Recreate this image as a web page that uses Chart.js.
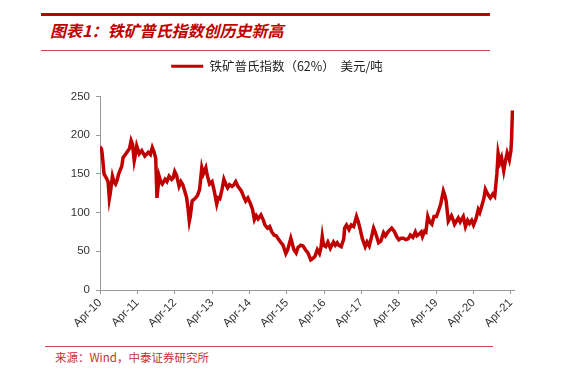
<!DOCTYPE html>
<html>
<head>
<meta charset="utf-8">
<script src="https://cdn.jsdelivr.net/npm/chart.js@4.4.1/dist/chart.umd.min.js"></script>
<style>
  body { margin: 0; background: #fff; width: 586px; height: 375px; position: relative; overflow: hidden; }
  .rule { position: absolute; background: #c00000; }
  #title { position: absolute; left: 50px; top: 18px; font: italic bold 16px "Noto Sans CJK SC", sans-serif; color: #c00000; white-space: nowrap; }
  #source { position: absolute; left: 55px; top: 349px; font: 11.5px "Noto Sans CJK SC", monospace; color: #c83030; white-space: nowrap; }
  #box { position: absolute; left: 0; top: 50px; width: 586px; height: 290px; }
</style>
</head>
<body>
<div class="rule" style="left:41px; top:13px; width:449px; height:3px;"></div>
<div id="title">图表1：铁矿普氏指数创历史新高</div>
<div class="rule" style="left:41px; top:50px; width:449px; height:1px; background:#d04848;"></div>
<div id="box"><canvas id="ironChart"></canvas></div>
<div class="rule" style="left:45px; top:346px; width:448px; height:1px; background:#d04848;"></div>
<div id="source">来源：Wind，中泰证券研究所</div>

<script>
const seriesName = '铁矿普氏指数（62%）  美元/吨';
const tickLabels = ['Apr-10', 'Apr-11', 'Apr-12', 'Apr-13', 'Apr-14', 'Apr-15',
                    'Apr-16', 'Apr-17', 'Apr-18', 'Apr-19', 'Apr-20', 'Apr-21'];

const dates = [
  '2010-04-01', '2010-04-16', '2010-04-22', '2010-05-10', '2010-06-01', '2010-06-19', '2010-07-01', '2010-07-10',
  '2010-08-01', '2010-08-16', '2010-09-01', '2010-09-16', '2010-10-01', '2010-11-01', '2010-11-13', '2010-12-16',
  '2011-01-16', '2011-02-01', '2011-02-15', '2011-03-01', '2011-03-13', '2011-03-25', '2011-04-19', '2011-05-13',
  '2011-06-13', '2011-07-16', '2011-08-07', '2011-08-25', '2011-09-13', '2011-09-28', '2011-10-10', '2011-10-22',
  '2011-11-01', '2011-11-16', '2011-12-01', '2011-12-28', '2012-01-16', '2012-02-07', '2012-03-01', '2012-03-16',
  '2012-04-01', '2012-04-19', '2012-05-13', '2012-06-01', '2012-06-19', '2012-07-07', '2012-07-25', '2012-08-10',
  '2012-08-22', '2012-09-01', '2012-09-19', '2012-10-07', '2012-10-22', '2012-11-10', '2012-12-01', '2012-12-22',
  '2013-01-07', '2013-02-01', '2013-02-15', '2013-03-07', '2013-04-01', '2013-04-19', '2013-05-16', '2013-06-01',
  '2013-06-16', '2013-07-07', '2013-07-25', '2013-08-16', '2013-09-01', '2013-09-19', '2013-10-13', '2013-11-01',
  '2013-11-19', '2013-12-10', '2014-01-13', '2014-02-07', '2014-02-25', '2014-03-16', '2014-04-10', '2014-05-01',
  '2014-05-19', '2014-06-07', '2014-06-25', '2014-07-22', '2014-08-16', '2014-09-01', '2014-09-25', '2014-10-16',
  '2014-11-07', '2014-11-28', '2014-12-19', '2015-01-10', '2015-02-01', '2015-02-25', '2015-03-22', '2015-04-10',
  '2015-05-10', '2015-06-10', '2015-07-01', '2015-07-19', '2015-08-16', '2015-09-07', '2015-10-01', '2015-10-25',
  '2015-11-22', '2015-12-13', '2016-01-01', '2016-01-25', '2016-02-16', '2016-03-01', '2016-03-13', '2016-03-25',
  '2016-04-16', '2016-05-07', '2016-06-01', '2016-07-01', '2016-07-19', '2016-08-07', '2016-08-22', '2016-09-16',
  '2016-10-10', '2016-10-19', '2016-11-07', '2016-12-01', '2016-12-22', '2017-01-16', '2017-02-13', '2017-03-01',
  '2017-03-19', '2017-04-10', '2017-05-07', '2017-05-25', '2017-06-16', '2017-07-07', '2017-07-28', '2017-08-16',
  '2017-09-16', '2017-10-07', '2017-11-04', '2017-11-22', '2017-12-16', '2018-01-07', '2018-01-22', '2018-02-16',
  '2018-03-10', '2018-04-01', '2018-04-22', '2018-05-16', '2018-06-10', '2018-07-01', '2018-07-22', '2018-08-16',
  '2018-09-10', '2018-09-25', '2018-10-16', '2018-11-07', '2018-11-19', '2018-12-10', '2018-12-22', '2019-01-10',
  '2019-01-28', '2019-02-19', '2019-03-10', '2019-04-04', '2019-04-25', '2019-05-13', '2019-06-10', '2019-06-25',
  '2019-07-07', '2019-07-28', '2019-08-28', '2019-09-16', '2019-09-28', '2019-11-04', '2019-11-22', '2019-12-22',
  '2020-01-13', '2020-02-04', '2020-02-22', '2020-03-13', '2020-04-01', '2020-04-25', '2020-05-16', '2020-06-01',
  '2020-06-19', '2020-07-10', '2020-07-25', '2020-08-16', '2020-09-13', '2020-10-07', '2020-10-25', '2020-11-16',
  '2020-11-28', '2020-12-16', '2021-01-01', '2021-01-22', '2021-02-10', '2021-02-25', '2021-03-16', '2021-04-01',
  '2021-04-07', '2021-04-16'
];

const prices = [
  185, 182, 176, 150, 145, 140, 118, 125,
  147, 140, 137, 142, 150, 160, 171, 177,
  183, 193, 188, 167, 175, 186, 176, 180,
  173, 178, 175, 184, 178, 170, 119, 135,
  147, 140, 137, 143, 140, 147, 143, 145,
  153, 148, 134, 140, 136, 128, 120, 105,
  89, 95, 115, 117, 119, 122, 130, 158,
  150, 158, 148, 137, 140, 130, 111, 119,
  118, 130, 143, 136, 132, 136, 134, 136,
  140, 134, 128, 120, 115, 119, 112, 104,
  91, 96, 92, 97, 90, 84, 80, 82,
  75, 71, 70, 66, 62, 58, 47, 52,
  67, 52, 48, 55, 58, 57, 52, 48,
  39, 41, 43, 52, 47, 55, 69, 58,
  56, 62, 54, 62, 58, 61, 58, 56,
  66, 80, 84, 78, 84, 82, 95, 88,
  78, 66, 56, 62, 57, 68, 80, 74,
  61, 63, 74, 70, 75, 78, 80, 76,
  69, 65, 67, 67, 65, 66, 71, 68,
  75, 70, 72, 75, 69, 76, 75, 95,
  88, 85, 95, 95, 103, 110, 128, 122,
  115, 89, 96, 90, 85, 93, 88, 95,
  82, 90, 86, 90, 84, 92, 104, 100,
  108, 118, 130, 124, 119, 124, 121, 150,
  177, 165, 171, 154, 168, 177, 168, 180,
  193, 232
];

// months since Apr 2010
function monthOffset(d) {
  const [y, m, day] = d.split('-').map(Number);
  return (y - 2010) * 12 + (m - 4) + (day - 1) / 30;
}

const points = dates.map((d, i) => ({ x: monthOffset(d), y: prices[i] }));

const tickFont = { family: '"Liberation Sans", Arial, sans-serif', size: 11.5 };

const legendGap = {
  id: 'legendGap',
  beforeInit(chart) {
    const fit = chart.legend.fit;
    chart.legend.fit = function () {
      fit.bind(chart.legend)();
      this.height += 14;
    };
  }
};

const ctx = document.getElementById('ironChart').getContext('2d');
const ironChart = new Chart(ctx, {
  type: 'line',
  data: {
    datasets: [{
      label: seriesName,
      data: points,
      borderColor: '#c00000',
      backgroundColor: '#c00000',
      borderWidth: 3.5,
      pointRadius: 0,
      tension: 0,
      fill: false
    }]
  },
  options: {
    responsive: true,
    maintainAspectRatio: false,
    animation: false,
    layout: { padding: { left: 40, right: 72, top: 0, bottom: 0 } },
    plugins: {
      legend: {
        display: true,
        labels: {
          boxWidth: 32,
          boxHeight: 3,
          color: '#222',
          font: { family: '"Noto Sans CJK SC", sans-serif', size: 12.5 },
          padding: 10,
          generateLabels: chart =>
            Chart.defaults.plugins.legend.labels.generateLabels(chart).map(l => ({ ...l, lineWidth: 0 }))
        }
      },
      tooltip: { enabled: false }
    },
    scales: {
      x: {
        type: 'linear',
        min: 0,
        max: 133,
        border: { color: '#999' },
        grid: { display: true, drawOnChartArea: false, drawTicks: true, tickLength: 4, color: '#999' },
        ticks: {
          stepSize: 12,
          includeBounds: false,
          autoSkip: false,
          maxRotation: 45,
          minRotation: 45,
          color: '#333',
          font: tickFont,
          padding: 2,
          callback: v => (v % 12 === 0 ? tickLabels[v / 12] : '')
        },
        afterFit: scale => { scale.height = 50; }
      },
      y: {
        min: 0,
        max: 250,
        border: { color: '#999' },
        grid: { display: true, drawOnChartArea: false, drawTicks: true, tickLength: 4, color: '#999' },
        ticks: { stepSize: 50, color: '#333', font: tickFont, padding: 6 },
        afterFit: scale => { scale.width = 60; }
      }
    }
  },
  plugins: [legendGap]
});
</script>
</body>
</html>
